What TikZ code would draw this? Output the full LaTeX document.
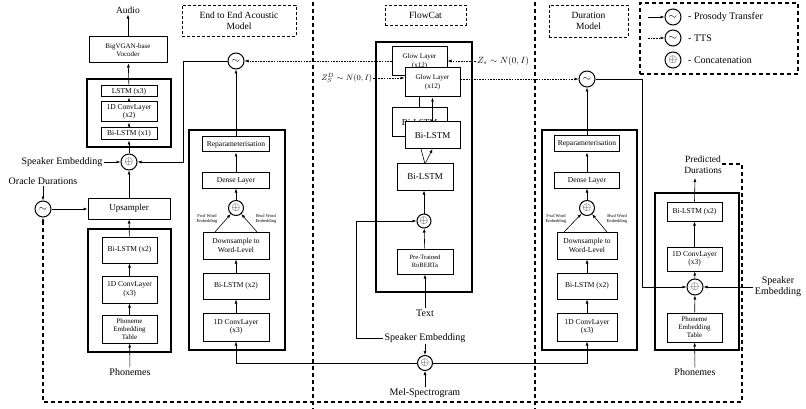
\documentclass[tikz,border=0pt]{standalone}
\usepackage{fontspec}
\setmainfont{Liberation Serif}
\usetikzlibrary{arrows.meta}
\tikzset{
 box/.style={draw, line width=1pt, fill=white, align=center, inner sep=1pt, font=\fontsize{7.5}{8.5}\selectfont},
 grp/.style={draw, line width=1.3pt},
 ttl/.style={draw, line width=0.9pt, dash pattern=on 3pt off 2pt, align=center, font=\fontsize{9.5}{11}\selectfont},
 cat/.style={draw, circle, line width=1pt, minimum size=16pt, inner sep=0pt, fill=white, font=\fontsize{11}{11}\selectfont},
 arr/.style={-{Latex[length=4pt,width=3pt]}, line width=0.6pt},
 ln/.style={line width=0.6pt},
 dotl/.style={line width=0.6pt, dash pattern=on 1.6pt off 1.1pt},
 sep/.style={line width=1.2pt, dash pattern=on 4pt off 3pt},
 lbl/.style={font=\fontsize{10}{11}\selectfont, align=center, inner sep=1pt},
 tinyl/.style={font=\fontsize{4.5}{5}\selectfont, align=center, inner sep=0pt},
}
\begin{document}
\begin{tikzpicture}[x=1pt,y=-1pt]
\useasboundingbox (0,0) rectangle (806,409);

% separators
\draw[sep] (313,2) -- (313,409);
\draw[sep] (535,2) -- (535,409);

% titles
\node[ttl, minimum width=114pt, minimum height=31pt] (t1) at (239,20.5) {End to End Acoustic\\Model};
\node[ttl, minimum width=81pt, minimum height=20pt] (t2) at (425.5,15) {FlowCat};
\node[ttl, minimum width=79pt, minimum height=32pt] (t3) at (588.5,21) {Duration\\Model};

% legend
\node[sep, draw, minimum width=158pt, minimum height=71pt] (leg) at (719,38.5) {};
\node[cat] (lg1) at (673,17) {$\sim$};
\node[cat] (lg2) at (673,38) {$\sim$};
\node[cat] (lg3) at (673,60) {$\oplus$};
\coordinate (lg1s) at (648,17);
\coordinate (lg2s) at (648,38);
\draw[arr] (lg1s) -- (lg1);
\draw[arr, dotl] (lg2s) -- (lg2);
\node[lbl, anchor=west] (lt1) at (687,17) {- Prosody Transfer};
\node[lbl, anchor=west] (lt2) at (687,38) {- TTS};
\node[lbl, anchor=west] (lt3) at (687,60) {- Concatenation};

% ---------- left column ----------
\node[grp, minimum width=84pt, minimum height=68pt] (g1) at (129,113) {};
\node[grp, minimum width=83pt, minimum height=123pt] (g2) at (129.5,290.5) {};
\node[lbl, font=\fontsize{9.5}{11}\selectfont] (audio) at (128,10) {Audio};
\node[box, minimum width=78pt, minimum height=26pt, font=\fontsize{7}{8.5}\selectfont] (voc) at (128,50) {BigVGAN-base\\Vocoder};
\node[box, minimum width=56pt, minimum height=11pt] (lstm3) at (129,91.5) {LSTM (x3)};
\node[box, minimum width=56pt, minimum height=20pt] (conv2) at (129,112) {1D ConvLayer\\(x2)};
\node[box, minimum width=56pt, minimum height=12pt] (bil1) at (129,134) {Bi-LSTM (x1)};
\node[cat] (cat1) at (129,162) {$\oplus$};
\node[lbl] (spk1) at (62,162) {Speaker Embedding};
\node[lbl] (orac) at (43,181) {Oracle Durations};
\node[cat] (tl1) at (43,209) {$\sim$};
\node[box, minimum width=82pt, minimum height=21pt, font=\fontsize{9}{10}\selectfont] (ups) at (129,208.5) {Upsampler};
\node[box, minimum width=55pt, minimum height=26pt] (bl2) at (129.5,250) {Bi-LSTM (x2)};
\node[box, minimum width=55pt, minimum height=27pt] (cv3) at (129.5,289.5) {1D ConvLayer\\(x3)};
\node[box, minimum width=55pt, minimum height=28pt, font=\fontsize{7}{8}\selectfont] (pet1) at (129.5,329) {Phoneme\\Embedding\\Table};
\node[lbl] (phon1) at (130,372) {Phonemes};

\draw[arr] (phon1) -- (pet1);
\draw[arr] (pet1) -- (cv3);
\draw[arr] (cv3) -- (bl2);
\draw[arr] (bl2) -- (ups);
\draw[arr] (ups) -- (cat1);
\draw[arr] (cat1) -- (bil1);
\draw[arr] (bil1) -- (conv2);
\draw[arr] (conv2) -- (lstm3);
\draw[arr] (lstm3) -- (voc);
\draw[arr] (voc) -- (audio);
\draw[arr] (spk1) -- (cat1);
\draw[arr] (orac) -- (tl1);
\draw[arr] (tl1) -- (tl1 -| ups.west);

% ---------- End to End acoustic model ----------
\node[grp, minimum width=96pt, minimum height=220pt] (g3) at (237,240) {};
\node[cat] (e2etl) at (236,61) {$\sim$};
\node[box, minimum width=67pt, minimum height=15pt] (rep1) at (236,144.5) {Reparameterisation};
\node[box, minimum width=67pt, minimum height=15pt] (den1) at (236,180.5) {Dense Layer};
\node[cat, minimum size=15pt] (cat2) at (236,208) {$\oplus$};
\node[box, minimum width=66pt, minimum height=27pt] (ds1) at (236,245.5) {Downsample to\\Word-Level};
\node[box, minimum width=66pt, minimum height=26pt] (bl3) at (236,286) {Bi-LSTM (x2)};
\node[box, minimum width=66pt, minimum height=28pt] (cv4) at (236,327) {1D ConvLayer\\(x3)};
\node[tinyl] (fw1) at (207,219) {Fwd Word\\Embedding};
\node[tinyl] (bw1) at (266,219) {Bwd Word\\Embedding};
\coordinate (ds1l) at (215,232);
\coordinate (ds1r) at (257,232);
\draw[arr] (ds1l) -- (cat2);
\draw[arr] (ds1r) -- (cat2);
\draw[arr] (cv4) -- (bl3);
\draw[arr] (bl3) -- (ds1);
\draw[arr] (cat2) -- (den1);
\draw[arr] (den1) -- (rep1);
\draw[arr] (rep1) -- (e2etl);
\coordinate (k1) at (183,0);
\draw[arr] (e2etl.west) -- (e2etl.west -| k1) |- (cat1.east);

% ---------- FlowCat ----------
\node[grp, minimum width=96pt, minimum height=250pt] (g4) at (424,167) {};
\node[box, minimum width=55pt, minimum height=29pt, font=\fontsize{7}{8.5}\selectfont] (glowb) at (419.5,61.5) {Glow Layer\\(x12)};
\node[box, minimum width=55pt, minimum height=29pt, font=\fontsize{7}{8.5}\selectfont] (glowf) at (432.5,82.5) {Glow Layer\\(x12)};
\node[box, minimum width=55pt, minimum height=29pt, font=\fontsize{9}{10}\selectfont] (blb) at (419.5,122.5) {Bi-LSTM};
\node[box, minimum width=55pt, minimum height=27pt, font=\fontsize{9}{10}\selectfont] (blf) at (432.5,135.5) {Bi-LSTM};
\node[box, minimum width=56pt, minimum height=26pt, font=\fontsize{9}{10}\selectfont] (bl4) at (425,177) {Bi-LSTM};
\node[cat, minimum size=14pt] (cat3) at (424,221) {$\oplus$};
\node[box, minimum width=56pt, minimum height=25pt, font=\fontsize{6.5}{8}\selectfont] (rob) at (425,261.5) {Pre-Trained\\RoBERTa};
\node[lbl] (txt) at (425,313) {Text};
\node[lbl] (spk2) at (425,338) {Speaker Embedding};
\node[cat, minimum size=15pt] (cat4) at (425,363) {$\oplus$};
\node[lbl] (mel) at (425,393) {Mel-Spectrogram};

\draw[arr] (txt) -- (rob);
\draw[arr] (rob) -- (cat3);
\draw[arr] (cat3) -- (cat3 |- bl4.south);
\coordinate (bv) at (425,164);
\coordinate (bvl) at (421,149);
\coordinate (bvr) at (432.5,149);
\draw[ln] (bv) -- (bvl);
\draw[arr] (bv) -- (bvr);
\draw[arr] (blf.north) -- (blf.north |- glowf.south);
\coordinate (bbt) at (419,108);
\draw[ln] (bbt) -- (bbt |- glowf.south);
\coordinate (k2) at (356,338);
\draw[arr] (spk2.west) -- (k2) |- (cat3.west);
\draw[arr] (spk2) -- (cat4);
\draw[arr] (mel) -- (cat4);
\draw[arr] (cat4.west) -| (cv4.south);

% latent labels
\node[lbl, anchor=west, font=\fontsize{9}{10}\selectfont] (zs) at (476,61) {$Z_s \sim N(0,I)$};
\node[lbl, anchor=east, font=\fontsize{8.5}{10}\selectfont, inner sep=0.5pt] (zsd) at (373,78) {$Z_S^D \sim N(0,I)$};
\draw[arr, dotl] (zs.west) -- (zs.west -| glowb.east);
\draw[arr, dotl] (glowb.west |- e2etl) -- (e2etl.east);
\draw[arr, dotl] (zsd.east) -- (zsd.east -| glowf.west);

% ---------- Duration model ----------
\node[grp, minimum width=95pt, minimum height=220pt] (g5) at (589.5,240) {};
\node[cat] (durtl) at (587,79) {$\sim$};
\node[box, minimum width=65pt, minimum height=16pt] (rep2) at (587,144) {Reparameterisation};
\node[box, minimum width=65pt, minimum height=15pt] (den2) at (587,180.5) {Dense Layer};
\node[cat, minimum size=15pt] (cat5) at (587,208) {$\oplus$};
\node[box, minimum width=60pt, minimum height=27pt] (ds2) at (587,245.5) {Downsample to\\Word-Level};
\node[box, minimum width=60pt, minimum height=26pt] (bl5) at (587,286) {Bi-LSTM (x2)};
\node[box, minimum width=60pt, minimum height=28pt] (cv5) at (587,327) {1D ConvLayer\\(x3)};
\node[tinyl] (fw2) at (556,219) {Fwd Word\\Embedding};
\node[tinyl] (bw2) at (617,219) {Bwd Word\\Embedding};
\coordinate (ds2l) at (564,232);
\coordinate (ds2r) at (607,232);
\draw[arr] (ds2l) -- (cat5);
\draw[arr] (ds2r) -- (cat5);
\draw[arr] (cv5) -- (bl5);
\draw[arr] (bl5) -- (ds2);
\draw[arr] (cat5) -- (den2);
\draw[arr] (den2) -- (rep2);
\draw[arr] (rep2) -- (durtl);
\draw[arr] (cat4.east) -| (cv5.south);
\draw[arr, dotl] (glowf.east |- durtl) -- (durtl.west);

% ---------- Predicted durations ----------
\node[grp, minimum width=84pt, minimum height=157pt] (g6) at (697,271.5) {};
\node[box, minimum width=55pt, minimum height=19pt] (bl6) at (694.5,211.5) {Bi-LSTM (x2)};
\node[box, minimum width=55pt, minimum height=24pt] (cv6) at (694.5,259) {1D ConvLayer\\(x3)};
\node[cat] (cat6) at (695,287) {$\oplus$};
\node[box, minimum width=55pt, minimum height=29pt, font=\fontsize{7}{8}\selectfont] (pet2) at (694.5,327.5) {Phoneme\\Embedding\\Table};
\node[lbl] (phon2) at (695,372) {Phonemes};
\node[lbl, font=\fontsize{9.5}{10.5}\selectfont] (pd) at (703,165) {Predicted\\Durations};
\node[lbl] (spk3) at (778,287) {Speaker\\Embedding};
\coordinate (pdt) at (695,178);
\draw[arr] (bl6.north) -- (pdt);
\draw[arr] (cv6) -- (bl6);
\draw[arr] (cat6) -- (cv6);
\draw[arr] (pet2) -- (cat6);
\draw[arr] (phon2) -- (pet2);
\coordinate (sp3) at (753,287);
\draw[arr] (sp3) -- (cat6.east);
\coordinate (k3) at (642,0);
\draw[arr] (durtl.east) -- (durtl.east -| k3) |- (cat6.west);

% big dashed feedback
\coordinate (d1) at (722,164);
\coordinate (d2) at (742,164);
\coordinate (d3) at (742,402);
\coordinate (d4) at (43,402);
\draw[sep, -{Latex[length=4pt,width=3pt]}] (d1) -- (d2) -- (d3) -- (d4) -- (tl1.south);

\end{tikzpicture}
\end{document}
